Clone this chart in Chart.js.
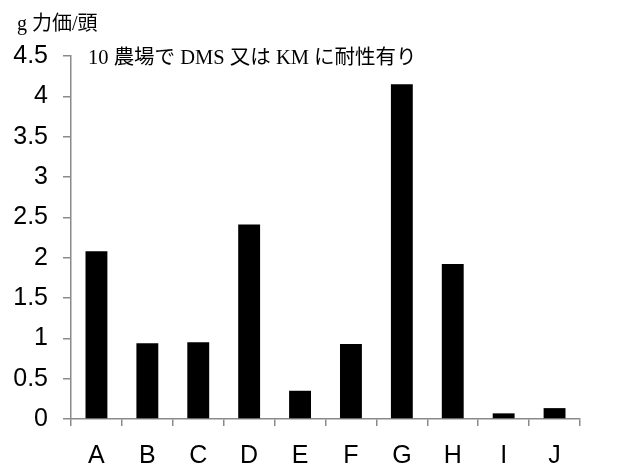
<!DOCTYPE html>
<html>
<head>
<meta charset="utf-8">
<script src="https://cdn.jsdelivr.net/npm/chart.js@4/dist/chart.umd.min.js"></script>
<style>
  html, body { margin: 0; padding: 0; background: #fff; }
  #wrap { width: 618px; height: 464px; }
</style>
</head>
<body>
<div id="wrap"><canvas id="c" width="618" height="464"></canvas></div>
<script>
// Farms and the amount per head for each
const farms = ['A', 'B', 'C', 'D', 'E', 'F', 'G', 'H', 'I', 'J'];
const amountPerHead = [2.08, 0.94, 0.95, 2.41, 0.35, 0.93, 4.15, 1.92, 0.07, 0.135];
const yTicks = [0, 0.5, 1, 1.5, 2, 2.5, 3, 3.5, 4, 4.5];

const unitLabel = 'g 力価/頭';
const headline = '10 農場で DMS 又は KM に耐性有り';

const axisGray = '#8a8a8a';
const sans = '"Liberation Sans", Arial, sans-serif';
const serifJa = '"Liberation Serif", "Noto Sans CJK JP", serif';

// Draws the unit label above the value axis and the headline inside the plot
const captions = {
  id: 'captions',
  afterDraw(chart) {
    const ctx = chart.ctx;
    const area = chart.chartArea;
    ctx.save();
    ctx.fillStyle = '#000';
    ctx.textAlign = 'left';
    ctx.textBaseline = 'alphabetic';
    ctx.font = '20px ' + serifJa;
    ctx.fillText(unitLabel, 17, 30);
    ctx.font = '20.5px ' + serifJa;
    ctx.fillText(headline, area.left + 17, area.top + 8);
    ctx.restore();
  }
};

new Chart(document.getElementById('c'), {
  type: 'bar',
  data: {
    labels: farms,
    datasets: [{
      data: amountPerHead,
      backgroundColor: '#000',
      borderWidth: 0,
      barPercentage: 0.43,
      categoryPercentage: 1
    }]
  },
  options: {
    responsive: false,
    animation: false,
    devicePixelRatio: 1,
    layout: { padding: { top: 56, right: 38, bottom: 0, left: 0 } },
    plugins: { legend: { display: false }, tooltip: { enabled: false }, title: { display: false } },
    scales: {
      x: {
        afterFit(s) { s.height = 45; },
        grid: { display: true, drawOnChartArea: false, drawTicks: true, tickLength: 7, color: axisGray, lineWidth: 1.5, offset: true },
        border: { display: true, color: axisGray, width: 1.5 },
        ticks: { color: '#000', font: { family: sans, size: 25 }, padding: 15 }
      },
      y: {
        min: 0,
        max: 4.5,
        afterFit(s) { s.width = 71; },
        afterBuildTicks(s) { s.ticks = yTicks.map(v => ({ value: v })); },
        grid: { display: true, drawOnChartArea: false, drawTicks: true, tickLength: 8, color: axisGray, lineWidth: 1.5 },
        border: { display: true, color: axisGray, width: 1.5 },
        ticks: {
          color: '#000',
          font: { family: sans, size: 25 },
          padding: 15,
          callback: v => String(v)
        }
      }
    }
  },
  plugins: [captions]
});
</script>
</body>
</html>
